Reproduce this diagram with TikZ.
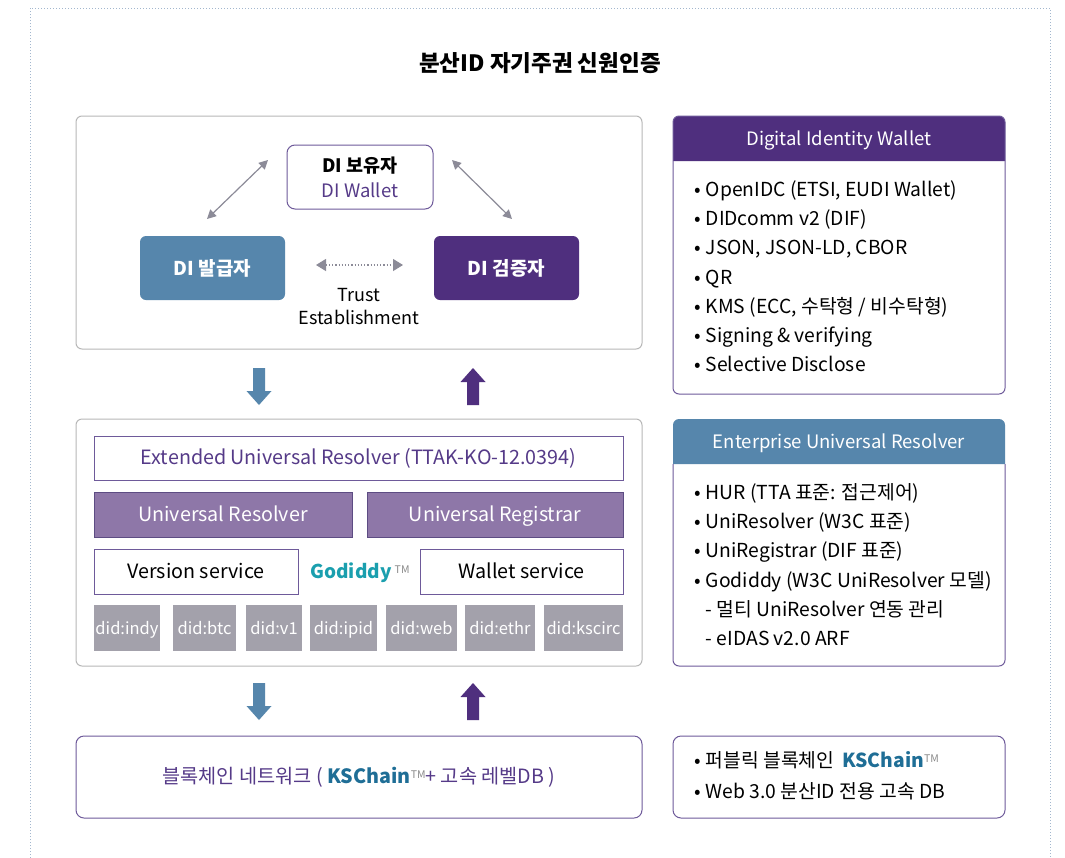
\documentclass[tikz,border=0pt]{standalone}
\usepackage{fontspec}
\setmainfont{Noto Sans CJK KR}
\usetikzlibrary{arrows.meta}
\definecolor{dpurple}{HTML}{4F2F7E}
\definecolor{steel}{HTML}{5686AC}
\definecolor{lpurple}{HTML}{8E77A8}
\definecolor{bpurple}{HTML}{6E5A9A}
\definecolor{didgray}{HTML}{A3A1AB}
\definecolor{agray}{HTML}{8C8B98}
\definecolor{boxgray}{HTML}{B8B8B8}
\definecolor{godteal}{HTML}{1A9FAE}
\definecolor{ksblue}{HTML}{1F6E96}
\definecolor{txtpurple}{HTML}{553A88}
\definecolor{frameblue}{HTML}{A3B7CE}
\definecolor{tmgray}{HTML}{8A8A8A}
\tikzset{
  outerbox/.style={draw=boxgray, line width=1pt, rounded corners=6pt, fill=white, inner sep=0pt, outer sep=0pt},
  panel/.style={fill=white, inner sep=0pt, outer sep=0pt},
  whitebox/.style={draw=bpurple, line width=1pt, fill=white, inner sep=0pt, outer sep=0pt},
  lilacbox/.style={draw=bpurple!85!black, line width=1pt, fill=lpurple, text=white, inner sep=0pt, outer sep=0pt},
  didbox/.style={fill=didgray, text=white, inner sep=0pt, outer sep=0pt, minimum height=46pt, text height=13.5pt, text depth=1.5pt, font=\fontsize{16.5}{20}\selectfont},
  rolebox/.style={rounded corners=6pt, text=white, inner sep=0pt, minimum width=145pt, minimum height=64pt, font=\bfseries\fontsize{19}{23}\selectfont},
  bodytxt/.style={font=\fontsize{19.7}{23}\selectfont, inner sep=0pt, text height=15.5pt, text depth=2.5pt},
  listtxt/.style={font=\fontsize{19.3}{23}\selectfont, inner sep=0pt, anchor=west, text height=15.5pt, text depth=2.5pt},
  hdrtxt/.style={font=\fontsize{18.5}{22}\selectfont, text=white, inner sep=0pt, text height=15pt, text depth=2pt},
  grayarrow/.style={agray, line width=1.2pt, {Triangle[length=9pt,width=9pt]}-{Triangle[length=9pt,width=9pt]}},
  dotarrow/.style={agray, line width=1.2pt, dotted, {Triangle[length=10pt,width=12pt]}-{Triangle[length=10pt,width=12pt]}},
  blockdown/.pic={\fill (-6,0) -- (6,0) -- (6,23) -- (12.5,23) -- (0,37) -- (-12.5,23) -- (-6,23) -- cycle;},
  blockup/.pic={\fill (-6,37) -- (6,37) -- (6,14) -- (12.5,14) -- (0,0) -- (-12.5,14) -- (-6,14) -- cycle;}
}
\newcommand\tmark{{\color{tmgray}\fontsize{10.5}{12}\selectfont\raisebox{5.5pt}{TM}}}
\begin{document}
\begin{tikzpicture}[x=1pt,y=-1pt]
\useasboundingbox (0,0) rectangle (1065,857);
\fill[white] (0,0) rectangle (1065,857);
% frame
\draw[frameblue, dotted, line width=1pt] (30,870) -- (30,8) -- (1050,8) -- (1050,870);
% title
\node[font=\bfseries\fontsize{22.5}{26}\selectfont] (title) at (540,63) {분산ID 자기주권 신원인증};

% ---- top box ----
\node[outerbox, minimum width=566pt, minimum height=233pt] (topbox) at (359,232.5) {};
\node[whitebox, rounded corners=8pt, minimum width=146pt, minimum height=64pt, align=center, font=\fontsize{18.5}{25}\selectfont] (holder) at (360,177)
  {\textbf{DI 보유자}\\{\color{txtpurple}DI Wallet}};
\node[rolebox, fill=steel] (issuer) at (212.5,268) {DI 발급자};
\node[rolebox, fill=dpurple] (verifier) at (506.5,268) {DI 검증자};
\coordinate (la1) at (207,219);
\coordinate (la2) at (268,160);
\coordinate (ra1) at (452,160);
\coordinate (ra2) at (512,219);
\draw[grayarrow] (la1) -- (la2);
\draw[grayarrow] (ra1) -- (ra2);
\coordinate (ta1) at (316,265);
\coordinate (ta2) at (403,265);
\draw[dotarrow] (ta1) -- (ta2);
\node[inner sep=0pt, align=center, font=\fontsize{18}{23}\selectfont] (trust) at (359,307) {Trust\\Establishment};

% block arrows top
\pic[steel] at (259,368) {blockdown};
\pic[dpurple] at (473,368) {blockup};

% ---- middle box ----
\node[outerbox, minimum width=566pt, minimum height=247pt] (midbox) at (359,542.5) {};
\node[whitebox, minimum width=529pt, minimum height=44pt, bodytxt, text=txtpurple] (ext) at (358.5,458) {Extended Universal Resolver (TTAK-KO-12.0394)};
\node[lilacbox, minimum width=258pt, minimum height=45pt, bodytxt] (ures) at (223,514.5) {Universal Resolver};
\node[lilacbox, minimum width=256pt, minimum height=45pt, bodytxt] (ureg) at (495,514.5) {Universal Registrar};
\node[whitebox, minimum width=204pt, minimum height=45pt, bodytxt] (vers) at (196,571.5) {Version service};
\node[whitebox, minimum width=203pt, minimum height=45pt, bodytxt] (wals) at (521.5,571.5) {Wallet service};
\node[bodytxt, font=\fontsize{19}{23}\selectfont] (god) at (360,572) {\textbf{\color{godteal}Godiddy}\,\tmark};
\node[didbox, minimum width=66pt] (d1) at (127,628) {did:indy};
\node[didbox, minimum width=63pt] (d2) at (204.5,628) {did:btc};
\node[didbox, minimum width=56pt] (d3) at (274,628) {did:v1};
\node[didbox, minimum width=67pt] (d4) at (343.5,628) {did:ipid};
\node[didbox, minimum width=71pt] (d5) at (421.5,628) {did:web};
\node[didbox, minimum width=70pt] (d6) at (500,628) {did:ethr};
\node[didbox, minimum width=79pt] (d7) at (583.5,628) {did:kscirc};

% block arrows bottom
\pic[steel] at (259,683) {blockdown};
\pic[dpurple] at (473,683) {blockup};

% ---- bottom box ----
\node[whitebox, rounded corners=8pt, minimum width=566pt, minimum height=82pt, bodytxt, text=txtpurple] (chain) at (359,777)
  {블록체인 네트워크 ( \textbf{\color{ksblue}KSChain}\tmark+ 고속 레벨DB )};

% ---- Digital Identity Wallet panel ----
\node[panel, minimum width=332pt, minimum height=278pt] (diw) at (839,255) {};
\fill[dpurple] ([yshift=-45pt]diw.north west) [rounded corners=6pt] -- (diw.north west) -- (diw.north east) [sharp corners] -- ([yshift=-45pt]diw.north east) -- cycle;
\draw[bpurple, line width=1pt, rounded corners=6pt] (diw.north west) rectangle (diw.south east);
\node[hdrtxt] (diwh) at ([yshift=-22.5pt]diw.north) {Digital Identity Wallet};
\foreach \t [count=\i] in {{OpenIDC (ETSI, EUDI Wallet)},{DIDcomm v2 (DIF)},{JSON, JSON-LD, CBOR},{QR},{KMS (ECC, 수탁형 / 비수탁형)},{Signing \& verifying},{Selective Disclose}}
  \node[listtxt] (diwl\i) at (694,{190+29.2*(\i-1)}) {•\hspace{5pt}\t};

% ---- Enterprise Universal Resolver panel ----
\node[panel, minimum width=332pt, minimum height=247pt] (eur) at (839,542.5) {};
\fill[steel] ([yshift=-45pt]eur.north west) [rounded corners=6pt] -- (eur.north west) -- (eur.north east) [sharp corners] -- ([yshift=-45pt]eur.north east) -- cycle;
\draw[bpurple, line width=1pt, rounded corners=6pt] ([yshift=-45pt]eur.north west) -- (eur.south west) -- (eur.south east) -- ([yshift=-45pt]eur.north east);
\node[hdrtxt] (eurh) at ([yshift=-22.5pt]eur.north) {Enterprise Universal Resolver};
\foreach \t [count=\i] in {{HUR (TTA 표준: 접근제어)},{UniResolver (W3C 표준)},{UniRegistrar (DIF 표준)},{Godiddy (W3C UniResolver 모델)}}
  \node[listtxt] (eurl\i) at (694,{493+29.2*(\i-1)}) {•\hspace{5pt}\t};
\node[listtxt] (eurl5) at (705,{493+29.2*4}) {-\hspace{5pt}멀티 UniResolver 연동 관리};
\node[listtxt] (eurl6) at (705,{493+29.2*5}) {-\hspace{5pt}eIDAS v2.0 ARF};

% ---- KSChain panel ----
\node[whitebox, rounded corners=8pt, minimum width=332pt, minimum height=82pt] (ksp) at (839,777) {};
\node[listtxt] (ksl1) at (694,761) {•\hspace{5pt}퍼블릭 블록체인\hspace{8pt}\textbf{\color{ksblue}KSChain}\tmark};
\node[listtxt] (ksl2) at (694,792) {•\hspace{5pt}Web 3.0 분산ID 전용 고속 DB};
\end{tikzpicture}
\end{document}
